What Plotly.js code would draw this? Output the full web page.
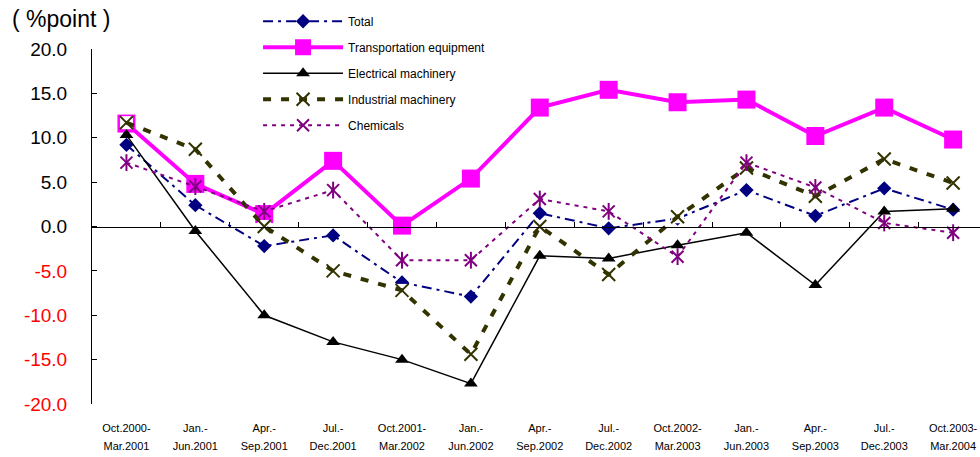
<!DOCTYPE html>
<html>
<head>
<meta charset="utf-8">
<script src="https://cdn.plot.ly/plotly-3.0.1.min.js"></script>
<style>
  html, body { margin: 0; padding: 0; background: #fff; }
  #chart { width: 980px; height: 457px; }
</style>
</head>
<body>
<div id="chart"></div>
<script>
// Half-year periods (two-line labels)
const periodStart = ["Oct.2000-", "Jan.-", "Apr.-", "Jul.-", "Oct.2001-", "Jan.-", "Apr.-",
                     "Jul.-", "Oct.2002-", "Jan.-", "Apr.-", "Jul.-", "Oct.2003-"];
const periodEnd = ["Mar.2001", "Jun.2001", "Sep.2001", "Dec.2001", "Mar.2002", "Jun.2002", "Sep.2002",
                   "Dec.2002", "Mar.2003", "Jun.2003", "Sep.2003", "Dec.2003", "Mar.2004"];

// Contributions, %point
const total        = [9.2, 2.4, -2.2, -1.0, -6.3, -7.9, 1.5, -0.2, 0.9, 4.1, 1.2, 4.3, 1.9];
const transport    = [11.6, 4.8, 1.4, 7.4, 0.1, 5.4, 13.4, 15.4, 14.0, 14.3, 10.2, 13.4, 9.8];
const electrical   = [10.3, -0.5, -10.0, -13.0, -15.0, -17.7, -3.3, -3.6, -2.1, -0.7, -6.6, 1.7, 2.0];
const industrial   = [11.7, 8.7, 0.0, -5.0, -7.2, -14.4, 0.0, -5.4, 1.1, 6.6, 3.4, 7.6, 4.9];
const chemicals    = [7.2, 4.5, 1.7, 4.1, -3.8, -3.8, 3.1, 1.7, -3.4, 7.2, 4.4, 0.4, -0.7];

// Y tick values
const yTicks = [20, 15, 10, 5, 0, -5, -10, -15, -20];

const categories = periodStart.map((s, i) => s + periodEnd[i]);
const yTickText = yTicks.map(v => v < 0
  ? '<span style="color:#ff0000">' + v.toFixed(1) + '</span>'
  : v.toFixed(1));

const traces = [
  {
    name: "Total", x: categories, y: total, mode: "lines+markers", legendgroup: "g1",
    line: { color: "#000080", width: 2, dash: "10px,5px,3px,5px" },
    marker: { symbol: "diamond", size: 11, color: "#000080" }
  },
  {
    name: "Transportation equipment", x: categories, y: transport, mode: "lines+markers", legendgroup: "g2",
    line: { color: "#ff00ff", width: 4 },
    marker: { symbol: "square", size: 18, color: "#ff00ff" }
  },
  {
    name: "Electrical machinery", x: categories, y: electrical, mode: "lines+markers", legendgroup: "g3",
    line: { color: "#000000", width: 1.5 },
    marker: { symbol: "triangle-up", size: 12, color: "#000000" }
  },
  {
    // white backing behind the cross markers
    name: "Industrial machinery", x: categories, y: industrial, mode: "markers", legendgroup: "g4",
    showlegend: false,
    marker: { symbol: "square", size: 13, color: "#ffffff" }
  },
  {
    name: "Industrial machinery", x: categories, y: industrial, mode: "lines+markers", legendgroup: "g4",
    line: { color: "#333300", width: 4, dash: "8px,10px" },
    marker: { symbol: "x-thin-open", size: 13, color: "#333300", line: { width: 2, color: "#333300" } }
  },
  {
    name: "Chemicals", x: categories, y: chemicals, mode: "lines+markers", legendgroup: "g5",
    line: { color: "#800080", width: 2, dash: "4px,5px" },
    marker: { symbol: "x-thin-open", size: 12, color: "#800080", line: { width: 2, color: "#800080" } }
  },
  {
    // vertical stroke completing the star marker
    name: "Chemicals", x: categories, y: chemicals, mode: "markers", legendgroup: "g5",
    showlegend: false,
    marker: { symbol: "line-ns-open", size: 12, color: "#800080", line: { width: 2, color: "#800080" } }
  }
];

const xRange = [-0.5, 12.39];
const labelFont = { family: "Liberation Sans, Arial, sans-serif", size: 11, color: "#000" };

const layout = {
  width: 980, height: 457,
  margin: { l: 92, r: 0, t: 49, b: 53 },
  paper_bgcolor: "#fff", plot_bgcolor: "#fff",
  showlegend: true,
  legend: {
    x: 0.187, xanchor: "left", y: 1.119, yanchor: "top",
    bgcolor: "rgba(0,0,0,0)", itemwidth: 80, tracegroupgap: 7,
    font: { family: "Liberation Sans, Arial, sans-serif", size: 12, color: "#000" }
  },
  xaxis: {
    type: "category", range: xRange,
    anchor: "free", position: 0.5,
    showline: true, linecolor: "#000", linewidth: 1,
    ticks: "inside", tickson: "boundaries", ticklen: 5, tickcolor: "#000",
    showticklabels: false, showgrid: false, zeroline: false
  },
  xaxis2: {
    type: "category", overlaying: "x", matches: "x", anchor: "free", position: 0, side: "bottom",
    range: xRange, showline: false, ticks: "", showgrid: false, zeroline: false,
    tickmode: "array", tickvals: categories, ticktext: periodStart,
    ticklabelstandoff: 16, tickfont: labelFont
  },
  xaxis3: {
    type: "category", overlaying: "x", matches: "x", anchor: "free", position: 0, side: "bottom",
    range: xRange, showline: false, ticks: "", showgrid: false, zeroline: false,
    tickmode: "array", tickvals: categories, ticktext: periodEnd,
    ticklabelstandoff: 34, tickfont: labelFont
  },
  yaxis: {
    range: [-20, 20], showline: true, linecolor: "#000", linewidth: 1,
    ticks: "inside", ticklen: 5, tickcolor: "#000",
    tickmode: "array", tickvals: yTicks, ticktext: yTickText,
    ticklabelstandoff: 20,
    tickfont: { family: "Liberation Sans, Arial, sans-serif", size: 19, color: "#000" },
    showgrid: false, zeroline: false
  },
  annotations: [{
    text: "( %point )", xref: "paper", yref: "paper",
    x: -0.092, y: 1.085, xanchor: "left", yanchor: "middle", showarrow: false,
    font: { family: "Liberation Sans, Arial, sans-serif", size: 23, color: "#000" }
  }]
};

// empty traces so the overlay label axes are drawn
traces.push({ x: [categories[0]], y: [null], xaxis: "x2", showlegend: false, hoverinfo: "skip", mode: "markers" });
traces.push({ x: [categories[0]], y: [null], xaxis: "x3", showlegend: false, hoverinfo: "skip", mode: "markers" });

Plotly.newPlot("chart", traces, layout, { staticPlot: true, displayModeBar: false });
</script>
</body>
</html>
